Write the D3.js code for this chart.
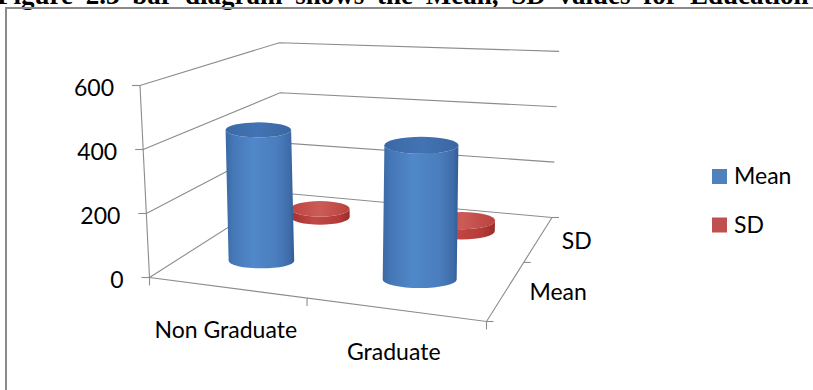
<!DOCTYPE html>
<html><head><meta charset="utf-8">
<script src="https://cdn.jsdelivr.net/npm/d3@7"></script>
<style>html,body{margin:0;padding:0;background:#fff;overflow:hidden}</style>
</head><body><svg id="chart" width="813" height="390"></svg>
<script>
// ---------- data ----------
const categories = ["Non Graduate", "Graduate"];
const seriesNames = ["Mean", "SD"];
const meanValues = [425, 410];
const sdValues = [30, 36];
const valueTicks = [0, 200, 400, 600];
const titleText = "Figure 2.3 bar diagram shows the Mean, SD values for Education";

const seriesValues = { Mean: meanValues, SD: sdValues };
const seriesColors = { Mean: "#4F81BD", SD: "#C0504D" };

// ---------- layout (projection of the 3D box) ----------
const floorQuad = [[149.5, 277.5], [486.5, 321.5], [552, 217.5], [282, 193]]; // FL, FR, BR, BL
const frontHeight = 192;          // pixel height of full value range at front-left corner
const vanish = [364.5, 4623];     // vertical vanishing point

function makeHomography(q) {
  const [x0, y0] = q[0], [x1, y1] = q[1], [x2, y2] = q[2], [x3, y3] = q[3];
  const sx = x0 - x1 + x2 - x3, sy = y0 - y1 + y2 - y3;
  const dx1 = x1 - x2, dx2 = x3 - x2, dy1 = y1 - y2, dy2 = y3 - y2;
  const den = dx1 * dy2 - dx2 * dy1;
  const g = (sx * dy2 - dx2 * sy) / den;
  const h = (dx1 * sy - sx * dy1) / den;
  const a = x1 - x0 + g * x1, b = x3 - x0 + h * x3, c = x0;
  const d = y1 - y0 + g * y1, e = y3 - y0 + h * y3, f = y0;
  return (u, v) => {
    const w = g * u + h * v + 1;
    return [(a * u + b * v + c) / w, (d * u + e * v + f) / w, w];
  };
}
const H = makeHomography(floorQuad);

const xBand = d3.scaleBand().domain(categories).range([0, 1]);
const zBand = d3.scaleBand().domain(seriesNames).range([0, 1]);
const yScale = d3.scaleLinear().domain([0, 600]).range([0, frontHeight]);

function proj(u, v, val) {
  const [fx, fy, w] = H(u, v);
  const hp = yScale(val) / w;
  return [fx + (fx - vanish[0]) * hp / (vanish[1] - fy), fy - hp];
}

const svg = d3.select("#chart");
const defs = svg.append("defs");

// gradients
function hGrad(id, stops) {
  const g = defs.append("linearGradient").attr("id", id).attr("x1", 0).attr("x2", 1).attr("y1", 0).attr("y2", 0);
  stops.forEach(([o, c]) => g.append("stop").attr("offset", o).attr("stop-color", c));
}
hGrad("bodyMean", [[0, "#3a69a5"], [0.12, "#4678b8"], [0.4, "#5088c9"], [0.75, "#4a7dbd"], [0.93, "#3f6ca9"], [1, "#335c93"]]);
hGrad("topMean", [[0, "#3b69a6"], [0.5, "#4373b4"], [1, "#3a67a3"]]);
hGrad("bodySD", [[0, "#a5302d"], [0.4, "#c24845"], [0.8, "#b53c39"], [1, "#9c2c29"]]);
hGrad("topSD", [[0, "#bb4541"], [0.5, "#cc5b57"], [1, "#b9423e"]]);

// ---------- frame & title ----------
svg.append("text").attr("x", -3).attr("y", 4)
  .attr("font-family", "'Liberation Serif', 'Times New Roman', serif")
  .attr("font-weight", "bold").attr("font-size", 27).attr("word-spacing", 6)
  .attr("fill", "#000").text(titleText);
svg.append("path").attr("d", "M6,390 L6,8 L813,8")
  .attr("fill", "none").attr("stroke", "#8a8a8a").attr("stroke-width", 2);

// ---------- walls / gridlines ----------
const gridColor = "#8c8c8c";
const grid = svg.append("g").attr("stroke", gridColor).attr("stroke-width", 1.1).attr("fill", "none");
const line = d3.line();
valueTicks.forEach(t => {
  grid.append("path").attr("d", line([proj(0, 0, t), proj(0, 1, t), proj(1, 1, t)]));
});
// floor front & right edges
grid.append("path").attr("d", line([proj(0, 0, 0), proj(1, 0, 0), proj(1, 1, 0)]));
// value axis line
grid.append("path").attr("d", line([proj(0, 0, 0), proj(0, 0, d3.max(valueTicks))]));

// value axis ticks & labels
const labelFont = "Lato, 'Open Sans', sans-serif";
valueTicks.forEach(t => {
  const p = proj(0, 0, t);
  grid.append("path").attr("d", line([[p[0] - 8, p[1]], p]));
  svg.append("text").attr("x", p[0] - 26).attr("y", p[1] + 10)
    .attr("text-anchor", "end").attr("font-family", labelFont).attr("font-size", 23)
    .attr("fill", "#000").text(t);
});

// category ticks & labels
[0, ...categories.map((c, i) => (i + 1) / categories.length)].forEach(u => {
  const p = proj(u, 0, 0);
  grid.append("path").attr("d", line([p, [p[0], p[1] + 8]]));
});
categories.forEach(c => {
  const p = proj(xBand(c) + xBand.bandwidth() / 2, 0, 0);
  svg.append("text").attr("x", p[0]).attr("y", p[1] + 51)
    .attr("text-anchor", "middle").attr("font-family", labelFont).attr("font-size", 23)
    .attr("fill", "#000").text(c);
});

// depth (series) ticks & labels
[0, ...seriesNames.map((s, i) => (i + 1) / seriesNames.length)].forEach(v => {
  const p = proj(1, v, 0);
  grid.append("path").attr("d", line([p, [p[0] + 7, p[1]]]));
});
seriesNames.forEach(s => {
  const p = proj(1, zBand(s) + zBand.bandwidth() / 2, 0);
  svg.append("text").attr("x", p[0] + 23).attr("y", p[1] + 10)
    .attr("text-anchor", "start").attr("font-family", labelFont).attr("font-size", 23)
    .attr("fill", "#000").text(s);
});

// ---------- cylinders ----------
const barFracU = 0.22;   // diameter as fraction of the category band
const flat = { Mean: 0.23, SD: 0.26 };  // ellipse ry / rx
const bars = [];
seriesNames.forEach(s => {
  categories.forEach((c, i) => {
    bars.push({ series: s, cat: c, value: seriesValues[s][i] });
  });
});
// draw back row first
bars.sort((a, b) => zBand(b.series) - zBand(a.series));

const barG = svg.append("g");
bars.forEach(d => {
  const uc = xBand(d.cat) + xBand.bandwidth() / 2;
  const vc = zBand(d.series) + zBand.bandwidth() / 2;
  const ru = xBand.bandwidth() * barFracU;
  const B = proj(uc, vc, 0);
  const T = proj(uc, vc, d.value);
  const rx = (H(uc + ru, vc)[0] - H(uc - ru, vc)[0]) / 2;
  const ry = rx * flat[d.series];
  const body = `M${T[0] - rx},${T[1]} L${B[0] - rx},${B[1]} A${rx},${ry} 0 0 0 ${B[0] + rx},${B[1]} L${T[0] + rx},${T[1]} A${rx},${ry} 0 0 1 ${T[0] - rx},${T[1]} Z`;
  const g = barG.append("g");
  g.append("path").attr("d", body).attr("fill", `url(#body${d.series})`);
  g.append("ellipse").attr("cx", T[0]).attr("cy", T[1]).attr("rx", rx).attr("ry", ry)
    .attr("fill", `url(#top${d.series})`);
});

// ---------- legend ----------
const legend = svg.append("g");
seriesNames.forEach((s, i) => {
  const y = 169 + i * 48.5;
  legend.append("rect").attr("x", 712).attr("y", y).attr("width", 15).attr("height", 15)
    .attr("fill", seriesColors[s]);
  legend.append("text").attr("x", 734).attr("y", y + 15)
    .attr("font-family", labelFont).attr("font-size", 23).attr("fill", "#000").text(s);
});
</script>
</body></html>
